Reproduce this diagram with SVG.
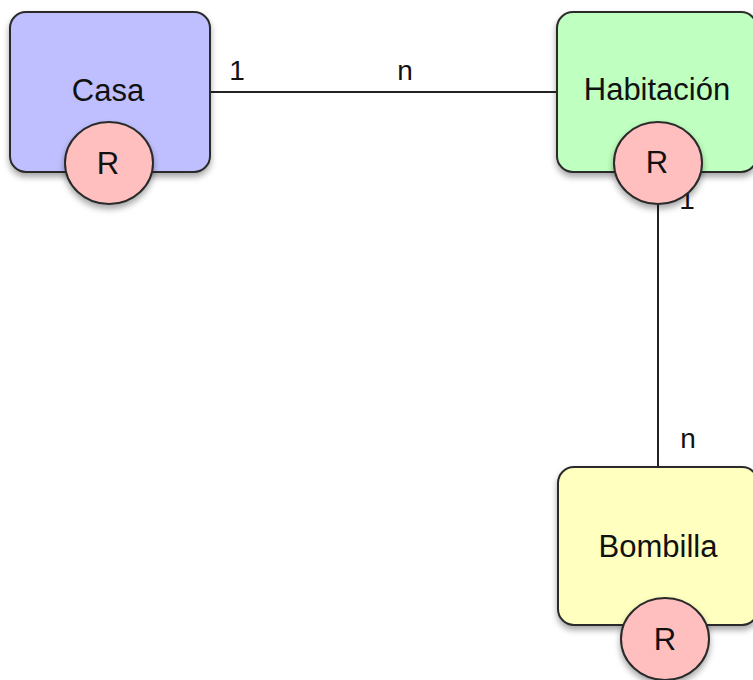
<svg xmlns="http://www.w3.org/2000/svg" width="753" height="680" viewBox="0 0 753 680">
<defs>
<filter id="sh" x="-20%" y="-20%" width="140%" height="150%">
<feDropShadow dx="0" dy="4" stdDeviation="3" flood-color="#000" flood-opacity="0.35"/>
</filter>
<style>
.box{stroke:#2a2a2a;stroke-width:2;filter:url(#sh)}
.r{fill:#FFBFBF;stroke:#2a2a2a;stroke-width:2;filter:url(#sh)}
.t{font-family:"Liberation Sans",Arial,sans-serif;font-size:31px;fill:#111;text-anchor:middle}
.lbl{font-family:"Liberation Sans",Arial,sans-serif;font-size:28px;fill:#111;text-anchor:middle}
.c{stroke:#222;stroke-width:2;fill:none}
</style>
</defs>
<rect width="753" height="680" fill="#ffffff"/>
<g id="connectors">
<line class="c" x1="210" y1="92" x2="557" y2="92"/>
<line class="c" x1="658" y1="200" x2="658" y2="467"/>
<text class="lbl" x="237" y="80">1</text>
<text class="lbl" x="405" y="80">n</text>
<text class="lbl" x="687" y="209">1</text>
<text class="lbl" x="688" y="448">n</text>
</g>
<g id="casa">
<rect class="box" x="10" y="12" width="200" height="160" rx="16" fill="#BFBFFF"/>
<text class="t" x="108" y="101">Casa</text>
<ellipse class="r" cx="109" cy="163" rx="44" ry="41"/>
<text class="t" x="108" y="174">R</text>
</g>
<g id="habitacion">
<rect class="box" x="557" y="12" width="200" height="160" rx="16" fill="#BFFFBF"/>
<text class="t" x="657" y="100">Habitación</text>
<ellipse class="r" cx="658" cy="163" rx="44" ry="41"/>
<text class="t" x="657" y="173">R</text>
</g>
<g id="bombilla">
<rect class="box" x="558" y="467" width="200" height="158" rx="16" fill="#FFFFBF"/>
<text class="t" x="658" y="557">Bombilla</text>
<ellipse class="r" cx="665" cy="639" rx="44" ry="41"/>
<text class="t" x="665" y="650">R</text>
</g>
</svg>
